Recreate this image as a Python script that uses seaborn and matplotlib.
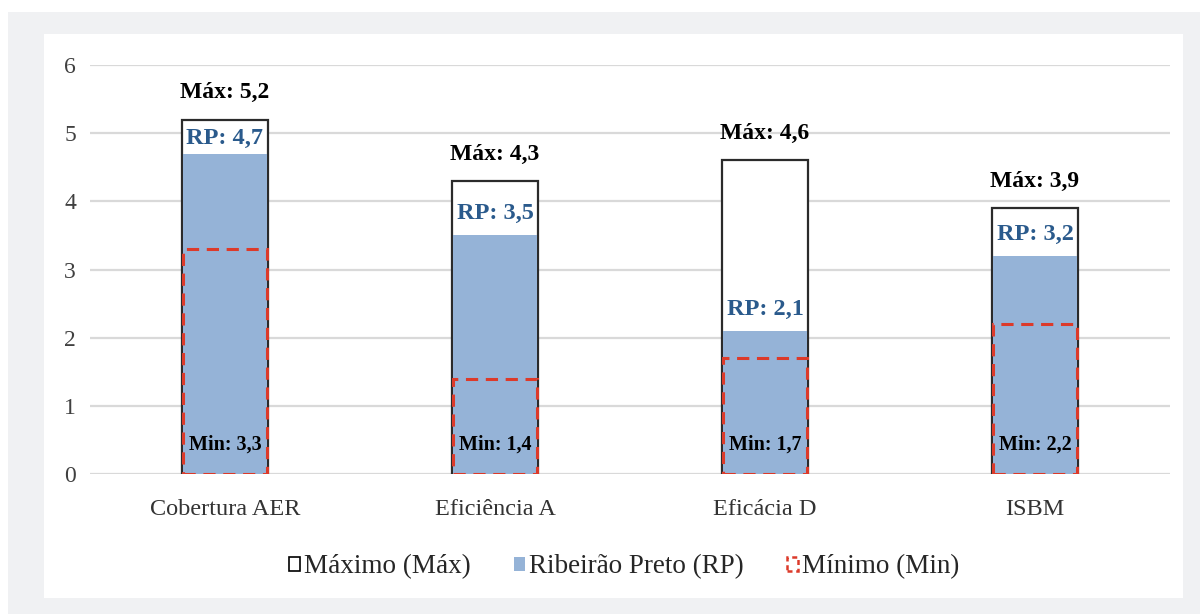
import matplotlib
matplotlib.use("Agg")
import matplotlib.pyplot as plt
from matplotlib.patches import Rectangle, Patch
import seaborn as sns
import pandas as pd

categories = ["Cobertura AER", "Eficiência A", "Eficácia D", "ISBM"]
maximo = [5.2, 4.3, 4.6, 3.9]
ribeirao = [4.7, 3.5, 2.1, 3.2]
minimo = [3.3, 1.4, 1.7, 2.2]
yticks = [0, 1, 2, 3, 4, 5, 6]

def fmt(v):
    return f"{v:.1f}".replace(".", ",")

df = pd.DataFrame({"cat": categories, "max": maximo, "rp": ribeirao, "min": minimo})

sns.set_theme(style="white")
plt.rcParams["font.family"] = ["Liberation Serif", "DejaVu Serif"]

fig = plt.figure(figsize=(12, 6.14), dpi=100)
fig.patch.set_facecolor("white")
fig.patches.append(Rectangle((8/1200, 0), 1 - 8/1200, 602/614, transform=fig.transFigure,
                             facecolor="#f0f1f3", edgecolor="none", zorder=-10))
fig.patches.append(Rectangle((44/1200, 16/614), (1183-44)/1200, (598-34)/614, transform=fig.transFigure,
                             facecolor="white", edgecolor="none", zorder=-9))

ax = fig.add_axes([90/1200, (614-474)/614, 1080/1200, (474-65)/614])
ax.set_facecolor("none")

W = 0.32
sns.barplot(data=df, x="cat", y="max", ax=ax, color="white", saturation=1, width=W,
            edgecolor="#2b2b2b", linewidth=1.6, zorder=2)
sns.barplot(data=df, x="cat", y="rp", ax=ax, color="#95b3d7", saturation=1, width=W - 0.008,
            linewidth=0, zorder=3)
sns.barplot(data=df, x="cat", y="min", ax=ax, color="#dc3a2a", saturation=1, width=W - 0.006,
            fill=False, linewidth=2.2, linestyle=(0, (4, 2.5)), zorder=4)

for i, (mx, rp, mn) in enumerate(zip(maximo, ribeirao, minimo)):
    ax.text(i, mx + 0.39, f"Máx: {fmt(mx)}", ha="center", va="center", fontsize=17,
            fontweight="bold", color="black", zorder=5)
    ax.text(i, min(rp + 0.32, mx - 0.28), f"RP: {fmt(rp)}", ha="center", va="center", fontsize=17.5,
            fontweight="bold", color="#2a5a8c", zorder=5)
    ax.text(i, 0.43, f"Min: {fmt(mn)}", ha="center", va="center", fontsize=14.5,
            fontweight="bold", color="black", zorder=5)

ax.set_xlim(-0.5, 3.5)
ax.set_ylim(0, 6)
ax.set_yticks(yticks)
ax.set_yticklabels([str(t) for t in yticks])
ax.yaxis.grid(True, color="#d9d9d9", linewidth=1.6, zorder=0)
ax.set_axisbelow(True)
for s in ax.spines.values():
    s.set_visible(False)
ax.tick_params(axis="y", length=0, pad=10, labelsize=17, labelcolor="#404040")
ax.tick_params(axis="x", length=0, pad=18, labelsize=17.5, labelcolor="#333333")
ax.set_xlabel("")
ax.set_ylabel("")

handles = [
    Patch(facecolor="white", edgecolor="black", linewidth=1.2, label="Máximo (Máx)"),
    Patch(facecolor="#95b3d7", edgecolor="none", label="Ribeirão Preto (RP)"),
    Patch(facecolor="none", edgecolor="#dc3a2a", linewidth=1.8, linestyle=(0, (2, 1.5)), label="Mínimo (Min)"),
]
fig.legend(handles=handles, loc="center", bbox_to_anchor=(0.52, (614-567)/614), ncol=3,
           frameon=False, fontsize=19.5, handlelength=0.4, handleheight=0.4,
           handletextpad=0.15, columnspacing=1.6)

fig.savefig("out.png", dpi=100)
